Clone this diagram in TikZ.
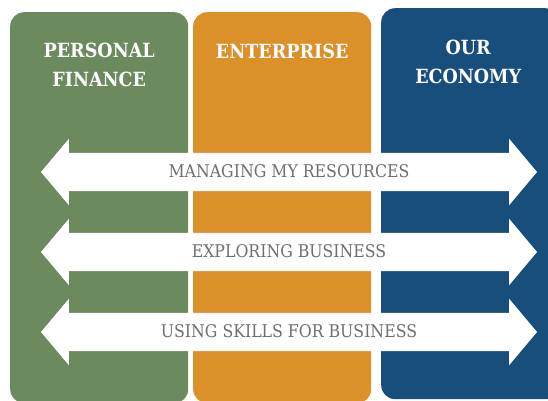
\documentclass[tikz,border=0pt]{standalone}
\usepackage{fontspec}
\usepackage{tikz}
\usetikzlibrary{shapes.arrows}
\usetikzlibrary{positioning}
\newfontfamily\slabfont{DejaVu Serif Condensed}

\definecolor{pfgreen}{HTML}{6B8B5E}
\definecolor{entorange}{HTML}{DC9029}
\definecolor{ecoblue}{HTML}{174E7B}
\definecolor{labelgray}{HTML}{6F6F6F}

\tikzset{
  strand/.style={rectangle,rounded corners=14pt,minimum width=178pt,minimum height=391pt,anchor=north west,inner sep=0pt},
  strandtitle/.style={text=white,font=\slabfont\bfseries\fontsize{19.5}{29}\selectfont,align=center},
  theme/.style={double arrow,fill=white,minimum height=496pt,double arrow head extend=14pt,
    double arrow tip angle=100,double arrow head indent=0pt,inner xsep=0pt,inner ysep=11pt,
    text height=13pt,text depth=3pt,text=labelgray,font=\slabfont\fontsize{17.5}{20}\selectfont}
}

\begin{document}
\begin{tikzpicture}[x=1pt,y=1pt]
  \useasboundingbox (0,0) rectangle (548,400);
  \begin{scope}
    \clip (0,0) rectangle (548,400);
    % the three strands
    \node[strand,fill=pfgreen]   (finance)    at (10,388)  {};
    \node[strand,fill=entorange] (enterprise) at (193,388) {};
    \node[strand,fill=ecoblue]   (economy)    at (381,392) {};
  \end{scope}
  \node[strandtitle,below=53pt of finance.north,anchor=center]    (financetitle)    {PERSONAL\\FINANCE};
  \node[strandtitle,below=39pt of enterprise.north,anchor=center] (enterprisetitle) {ENTERPRISE};
  \node[strandtitle,below=54pt of economy.north,anchor=center,xshift=-2pt] (economytitle) {OUR\\ECONOMY};
  % themes running across all strands
  \node[theme] (resources) at (289,228) {MANAGING MY RESOURCES};
  \node[theme] (business)  at (289,148) {EXPLORING BUSINESS};
  \node[theme] (skills)    at (289,68)  {USING SKILLS FOR BUSINESS};
\end{tikzpicture}
\end{document}
